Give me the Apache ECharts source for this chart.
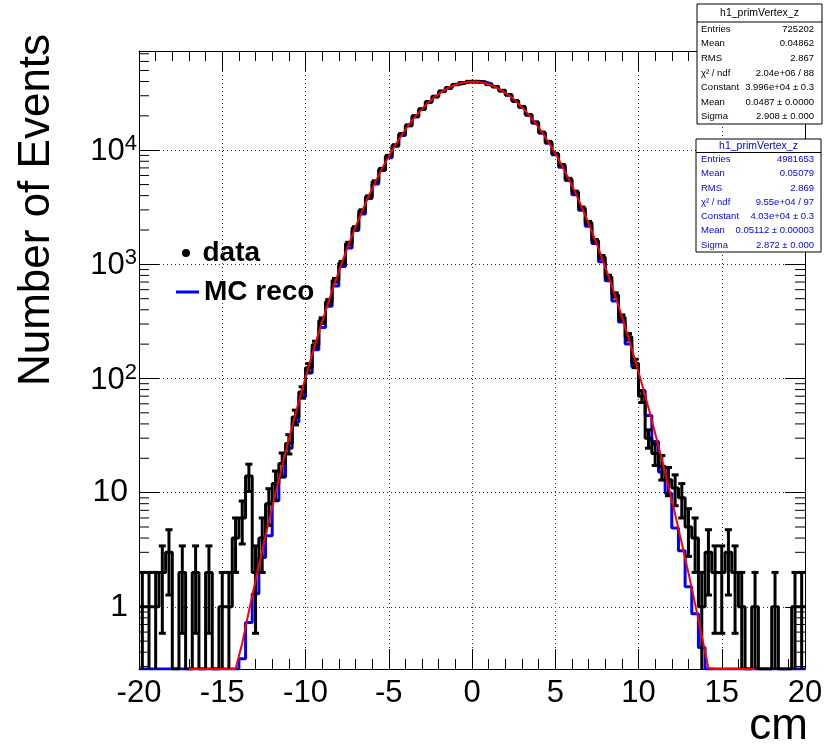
<!DOCTYPE html>
<html><head><meta charset="utf-8">
<script src="https://cdn.jsdelivr.net/npm/echarts@6/dist/echarts.min.js"></script>
<style>html,body{margin:0;padding:0;background:#fff}#c{width:830px;height:750px}</style>
</head><body><div id="c"></div>
<script>
// ---------------- data ----------------
const X_MIN = -20, X_MAX = 20, BIN_W = 0.4, N_BINS = 100;
const Y_MIN = 0.285, Y_MAX = 74000;
const xTicks = [-20, -15, -10, -5, 0, 5, 10, 15, 20];

// data (black), counts per 0.4 cm bin from -20 to 20
const dataCounts = [
  1,1,1,2,3,0,2,0,2,0,
  2,0,1,1,4,6,14,2,4,8,
  12,18,27,46,76,124,198,322,470,726,
  1030,1522,2090,2950,3920,5320,6850,8920,11050,13850,
  16520,19900,22880,26550,29450,32800,35100,37600,38800,39900,
  39750,39400,37700,36050,33150,30600,27000,24050,20400,17550,
  14300,11850,9300,7420,5600,4310,3120,2330,1610,1160,
  775,540,342,232,136,70,30,22,17,13,
  11,9,5,4,1,3,2,2,3,2,
  1,0,1,0,0,1,0,0,1,1
];
// MC reco (blue), scaled counts per bin
const mcCounts = [
  0,0,0,0,0,0,0,0,0,0,
  0,0,0,0,0.19,0.35,0.73,1.3,2.7,4.2,
  8.5,13.7,24.5,41.5,68.7,112,179,280,430,647,
  957,1390,1975,2755,3770,5055,6650,8585,10850,13470,
  16400,19590,22940,26360,29680,32770,35460,37700,39290,40150,
  40245,39565,38150,36090,33475,30465,27180,23790,20415,17190,
  14180,11480,9120,7100,5430,4065,2985,2155,1522,1054,
  717,478,313,201,126.5,78,47.4,28.1,15.2,9.9,
  4.9,3.1,1.5,0.87,0.44,0.22,0,0,0,0,
  0,0,0,0,0,0,0,0,0,0
];
// Gaussian fit curve (red), read at bin centres from -17.0 to 17.0
const FIT_FIRST_BIN = 7;
const fitValues = [
  0,0,0,0,0,0,0,
  0.25,0.48,0.91,1.70,3.1,5.6,9.9,17.2,29.2,48.8,79.9,128.6,203,315,478,713,1044,1500,2113,2921,3965,5278,6896,8841,11119,13726,16636,19769,23054,26382,29623,32640,35289,37438,38974,39812,
  39907,39251,37884,35878,33342,30404,27205,23886,20580,17400,14425,11741,9380,7350,5654,4267,3158,2296,1637,1145,786,529,350,227,144.4,90.1,55.3,33.2,19.6,11.4,6.5,3.6,1.98,1.06,0.56,0.29,
  0,0,0,0,0,0,0
];

const stats1Title = 'h1_primVertex_z';
const stats1Names = ['Entries','Mean','RMS','\u03c7\u00b2 / ndf','Constant','Mean','Sigma'];
const stats1Values = ['725202','0.04862','2.867','2.04e+06 / 88','3.996e+04 \u00b1 0.3','0.0487 \u00b1 0.0000','2.908 \u00b1 0.000'];
const stats2Title = 'h1_primVertex_z';
const stats2Names = ['Entries','Mean','RMS','\u03c7\u00b2 / ndf','Constant','Mean','Sigma'];
const stats2Values = ['4981653','0.05079','2.869','9.55e+04 / 97','4.03e+04 \u00b1 0.3','0.05112 \u00b1 0.00003','2.872 \u00b1 0.000'];

// ---------------- build ----------------
const FONT = "'Liberation Sans', Arial, Helvetica, sans-serif";
const edges = Array.from({length: N_BINS + 1}, (_, i) => +(X_MIN + i * BIN_W).toFixed(4));
const centers = Array.from({length: N_BINS}, (_, i) => +(X_MIN + (i + 0.5) * BIN_W).toFixed(4));
const clampY = v => Math.max(v, Y_MIN);
function stepData(counts) {
  const pts = counts.map((v, i) => [edges[i], clampY(v)]);
  pts.push([X_MAX, clampY(counts[counts.length - 1])]);
  return pts;
}
const fitData = fitValues.map((v, k) => [centers[FIT_FIRST_BIN + k], clampY(v)]);
const errData = dataCounts.map((v, i) => [centers[i], v]).filter(d => d[1] > 0);
const minorY = [];
for (let e = -1; e <= 4; e++) for (let k = 2; k <= 9; k++) {
  const v = k * Math.pow(10, e);
  if (v > Y_MIN && v < Y_MAX) minorY.push([X_MIN, v]);
}

const ZB = 100;
function statsBox(x, y, w, h, sepH, title, names, values, color, padL, padR) {
  const ch = [];
  ch.push({type: 'rect', z: ZB, shape: {x: x, y: y, width: w, height: h}, style: {fill: '#fff', stroke: '#000', lineWidth: 1}});
  ch.push({type: 'line', z: ZB + 1, shape: {x1: x, y1: y + sepH, x2: x + w, y2: y + sepH}, style: {stroke: '#000', lineWidth: 1}});
  ch.push({type: 'text', z: ZB + 1, x: x + w / 2, y: y + sepH / 2 + 0.5, style: {text: title, fill: color, fontSize: 10.5, fontFamily: FONT, align: 'center', verticalAlign: 'middle'}});
  const rowH = (h - sepH) / names.length;
  names.forEach((n, k) => {
    const cy = y + sepH + rowH * (k + 0.5);
    ch.push({type: 'text', z: ZB + 1, x: x + padL, y: cy, style: {text: n, fill: color, fontSize: 9.5, fontFamily: FONT, align: 'left', verticalAlign: 'middle'}});
    ch.push({type: 'text', z: ZB + 1, x: x + w - padR, y: cy, style: {text: values[k], fill: color, fontSize: 9.5, fontFamily: FONT, align: 'right', verticalAlign: 'middle'}});
  });
  return {type: 'group', z: ZB, children: ch};
}

const axisLineStyle = {color: '#000', width: 1};
const gridLine = {show: true, lineStyle: {color: '#333', type: [1, 3], width: 1}};

function yLabel(v) {
  const e = Math.log10(v), r = Math.round(e);
  if (Math.abs(e - r) > 1e-6) return '';
  if (r === 0) return '{p|1}';
  if (r === 1) return '{p|10}';
  return '{b|10}{s|' + r + '}';
}

const chart = echarts.init(document.getElementById('c'), null, {renderer: 'canvas'});
chart.setOption({
  animation: false,
  backgroundColor: '#fff',
  grid: {left: 139, top: 51, width: 666, height: 618, containLabel: false},
  xAxis: [
    {type: 'value', min: X_MIN, max: X_MAX, interval: 5, position: 'bottom',
     axisLine: {show: true, onZero: false, lineStyle: axisLineStyle},
     axisTick: {show: true, inside: true, length: 20, lineStyle: axisLineStyle},
     minorTick: {show: true, splitNumber: 5, length: 10, lineStyle: axisLineStyle},
     axisLabel: {show: true, margin: 9, fontSize: 31, color: '#000', fontFamily: FONT, showMinLabel: true, showMaxLabel: true},
     splitLine: gridLine},
    {type: 'value', min: X_MIN, max: X_MAX, interval: 5, position: 'top',
     axisLine: {show: true, onZero: false, lineStyle: axisLineStyle},
     axisTick: {show: true, inside: true, length: 20, lineStyle: axisLineStyle},
     minorTick: {show: true, splitNumber: 5, length: 10, lineStyle: axisLineStyle},
     axisLabel: {show: false}, splitLine: {show: false}}
  ],
  yAxis: [
    {type: 'log', logBase: 10, min: Y_MIN, max: Y_MAX, splitNumber: 6, position: 'left',
     axisLine: {show: true, onZero: false, lineStyle: axisLineStyle},
     axisTick: {show: true, inside: true, length: 20, lineStyle: axisLineStyle},
     minorTick: {show: false},
     axisLabel: {show: true, margin: 2, color: '#000', formatter: yLabel,
       rich: {p: {fontSize: 32, fontFamily: FONT, color: '#000', padding: [0, 9, 0, 0]},
              b: {fontSize: 31, fontFamily: FONT, color: '#000', padding: [3, 0, 0, 0]},
              s: {fontSize: 22, fontFamily: FONT, color: '#000', verticalAlign: 'top'}}},
     splitLine: gridLine},
    {type: 'log', logBase: 10, min: Y_MIN, max: Y_MAX, splitNumber: 6, position: 'right',
     axisLine: {show: true, onZero: false, lineStyle: axisLineStyle},
     axisTick: {show: true, inside: true, length: 20, lineStyle: axisLineStyle},
     minorTick: {show: false},
     axisLabel: {show: false}, splitLine: {show: false}}
  ],
  legend: [
    {data: [{name: 'data', icon: 'circle'}], left: 182, top: 239, padding: 0, itemWidth: 23, itemHeight: 8,
     selectedMode: false, textStyle: {fontSize: 28, fontWeight: 'bold', color: '#000', fontFamily: FONT}},
    {data: [{name: 'MC reco', icon: 'rect'}], left: 176, top: 278, padding: 0, itemWidth: 23, itemHeight: 3,
     selectedMode: false, textStyle: {fontSize: 28, fontWeight: 'bold', color: '#000', fontFamily: FONT}}
  ],
  series: [
    {name: 'MC reco', type: 'line', step: 'end', data: stepData(mcCounts), symbol: 'none', z: 2,
     lineStyle: {color: '#0000ff', width: 3}, itemStyle: {color: '#0000ff'}, color: '#0000ff'},
    {name: 'data', type: 'line', step: 'end', data: stepData(dataCounts), symbol: 'none', z: 3,
     lineStyle: {color: '#000', width: 3}, itemStyle: {color: '#000'}, color: '#000'},
    {name: 'data', type: 'custom', coordinateSystem: 'cartesian2d', z: 3, clip: true, data: errData,
     itemStyle: {color: '#000'},
     renderItem: function (params, api) {
       const c = api.value(0), v = api.value(1);
       const e = Math.sqrt(v);
       const hi = api.coord([c, v + e]);
       const loV = v - e;
       const lo = api.coord([c, Math.max(loV, Y_MIN)]);
       const st = {stroke: '#000', lineWidth: 3};
       const ch = [{type: 'line', shape: {x1: hi[0], y1: hi[1], x2: lo[0], y2: lo[1]}, style: st},
                   {type: 'line', shape: {x1: hi[0] - 3.5, y1: hi[1], x2: hi[0] + 3.5, y2: hi[1]}, style: st}];
       if (loV > Y_MIN) ch.push({type: 'line', shape: {x1: lo[0] - 3.5, y1: lo[1], x2: lo[0] + 3.5, y2: lo[1]}, style: st});
       return {type: 'group', children: ch};
     }},
    {name: 'fit', type: 'line', data: fitData, symbol: 'none', z: 4,
     lineStyle: {color: '#ff0000', width: 2}, itemStyle: {color: '#ff0000'}},
    {type: 'custom', coordinateSystem: 'cartesian2d', z: 5, silent: true, data: minorY,
     renderItem: function (params, api) {
       const a = api.coord([X_MIN, api.value(1)]);
       const b = api.coord([X_MAX, api.value(1)]);
       const st = {stroke: '#000', lineWidth: 1};
       return {type: 'group', children: [
         {type: 'line', shape: {x1: a[0], y1: a[1], x2: a[0] + 10, y2: a[1]}, style: st},
         {type: 'line', shape: {x1: b[0] - 10, y1: b[1], x2: b[0], y2: b[1]}, style: st}]};
     }}
  ],
  graphic: [
    {type: 'text', x: 37, y: 210, rotation: Math.PI / 2, z: 50,
     style: {text: 'Number of Events', fontSize: 44, fontFamily: FONT, fill: '#000', align: 'center', verticalAlign: 'middle'}},
    {type: 'text', x: 808, y: 727, z: 50,
     style: {text: 'cm', fontSize: 44, fontFamily: FONT, fill: '#000', align: 'right', verticalAlign: 'middle'}},
    statsBox(697, 4, 125, 120, 18, stats1Title, stats1Names, stats1Values, '#000', 4, 8),
    statsBox(696, 139, 125, 113, 13.5, stats2Title, stats2Names, stats2Values, '#0000ff', 5, 7)
  ]
});
</script></body></html>
